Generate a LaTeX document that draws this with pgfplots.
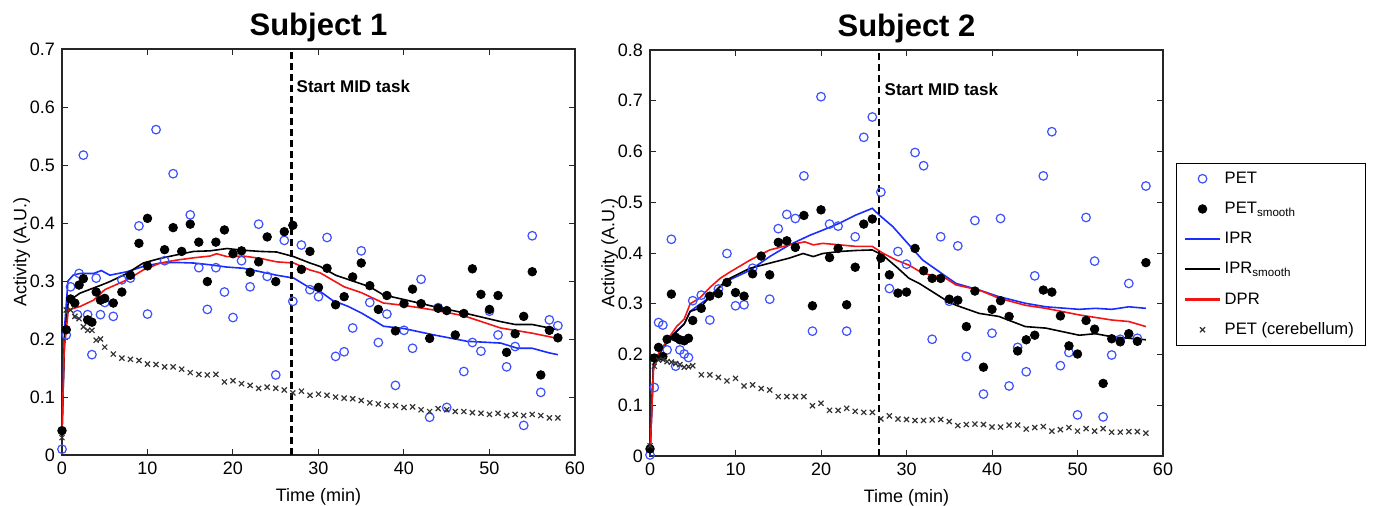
\documentclass[border=0pt]{standalone}
\usepackage{fontspec}
\setmainfont{Liberation Sans}
\usepackage{pgfplots}
\pgfplotsset{compat=1.18}

\definecolor{petc}{RGB}{60,80,255}
\definecolor{iprc}{RGB}{25,45,255}
\definecolor{dprc}{RGB}{245,20,20}

\pgfplotsset{
  subj/.style={
    scale only axis, width=256.5pt, height=203pt,
    xmin=0, xmax=60, xtick={0,10,...,60},
    xlabel={Time (min)}, ylabel={Activity (A.U.)},
    ylabel shift=-7pt,
    /pgf/number format/assume math mode=true,
    /pgf/number format/fixed,
    tick label style={font=\fontsize{9}{10}\selectfont},
    label style={font=\fontsize{9}{10}\selectfont},
    title style={font=\fontsize{15.5}{17}\selectfont\bfseries, yshift=-6pt},
    major tick length=3pt,
    axis line style={black!85, line width=0.6pt},
    tick style={black!85, line width=0.5pt},
    clip=false,
  },
  pet/.style={only marks, mark=o, mark size=2.15pt, petc, mark options={line width=0.6pt}},
  pets/.style={only marks, mark=*, mark size=2.15pt, black},
  ipr/.style={draw=iprc, line width=0.8pt, no marks, legend image post style={line width=1.1pt}},
  iprs/.style={draw=black, line width=0.8pt, no marks, legend image post style={line width=1pt}},
  dpr/.style={draw=dprc, line width=0.8pt, no marks, legend image post style={line width=1.1pt}},
  cer/.style={only marks, mark=x, mark size=1.8pt, black!80, mark options={line width=0.6pt}},
  startline/.style={black, line width=1.2pt, dash pattern=on 3.5pt off 2pt, forget plot},
}

\begin{document}
\begin{tikzpicture}
\useasboundingbox (0,0) rectangle (689.5pt,-253pt);

% ---------------- Subject 1
\begin{axis}[subj, at={(31pt,-227.5pt)}, anchor=south west,
  title={Subject 1}, ymin=0, ymax=0.7, ytick={0,0.1,...,0.7}]
  \addplot[pet] coordinates {(0,0.01) (0.5,0.207) (1,0.29) (1.8,0.242) (2,0.313) (2.5,0.517)
    (3,0.242) (3.5,0.173) (4,0.305) (4.5,0.242) (5,0.263) (6,0.239) (7,0.302) (8,0.305)
    (9,0.395) (10,0.243) (11,0.561) (12,0.335) (13,0.485) (15,0.414) (16,0.323) (17,0.251)
    (18,0.323) (19,0.281) (20,0.237) (21,0.335) (22,0.29) (23,0.398) (24,0.308) (25,0.138)
    (26,0.37) (27,0.265) (28,0.362) (29,0.285) (30,0.273) (31,0.375) (32,0.17) (33,0.178)
    (34,0.219) (35,0.352) (36,0.263) (37,0.194) (38,0.243) (39,0.12) (40,0.215) (41,0.184)
    (42,0.303) (43,0.065) (44,0.254) (45,0.082) (47,0.144) (48,0.194) (49,0.179) (50,0.248)
    (51,0.207) (52,0.152) (53,0.187) (54,0.051) (55,0.378) (56,0.108) (57,0.233) (58,0.223)};
  \addplot[pets] coordinates {(0,0.042) (0.5,0.216) (1,0.269) (1.5,0.262) (2,0.293) (2.5,0.304)
    (3,0.233) (3.5,0.229) (4,0.281) (4.5,0.267) (5,0.27) (6,0.262) (7,0.281) (8,0.31)
    (9,0.365) (10,0.408) (10,0.326) (12,0.354) (13,0.392) (14,0.351) (15,0.398) (16,0.367)
    (17,0.299) (18,0.367) (19,0.388) (20,0.347) (21,0.352) (22,0.315) (23,0.333) (24,0.376)
    (25,0.299) (26,0.385) (27,0.396) (28,0.32) (29,0.351) (30,0.289) (31,0.322) (32,0.259)
    (33,0.273) (34,0.307) (35,0.331) (36,0.292) (37,0.251) (38,0.275) (39,0.214) (40,0.261)
    (41,0.286) (42,0.261) (43,0.201) (44,0.253) (45,0.249) (46,0.207) (47,0.244) (48,0.321)
    (49,0.277) (50,0.251) (51,0.275) (52,0.177) (53,0.209) (54,0.239) (55,0.316) (56,0.138)
    (57,0.215) (58,0.202)};
  \addplot[ipr] coordinates {(0,0.04) (0.3,0.22) (0.7,0.3) (1.3,0.31) (2.1,0.313) (3.7,0.313)
    (4.6,0.318) (5.6,0.31) (7.6,0.316) (9.5,0.325) (11.5,0.331) (13.4,0.332) (15.4,0.331)
    (17.3,0.328) (19.3,0.324) (21.2,0.322) (23.2,0.316) (25.1,0.31) (27.1,0.305) (29,0.288)
    (30.2,0.282) (31.6,0.267) (33.5,0.256) (35,0.245) (36.5,0.232) (37.6,0.222) (40,0.218)
    (43.5,0.207) (47.4,0.196) (51.3,0.193) (53.3,0.184) (55,0.184) (57,0.176) (58,0.173)};
  \addplot[iprs] coordinates {(0,0.04) (0.3,0.2) (0.74,0.265) (2.1,0.279) (3.7,0.288) (4.6,0.293)
    (5.6,0.299) (7.6,0.313) (9.5,0.331) (11.5,0.339) (13.4,0.345) (15.4,0.351) (17.3,0.352)
    (19.3,0.356) (21.2,0.353) (23.2,0.351) (25.1,0.35) (27.1,0.342) (29,0.331) (30.2,0.325)
    (32,0.31) (34,0.3) (36,0.29) (37.6,0.276) (40,0.268) (43.5,0.256) (47,0.245) (51.3,0.23)
    (53,0.225) (55,0.225) (58,0.216)};
  \addplot[dpr] coordinates {(0,0.04) (0.25,0.18) (0.74,0.25) (2.1,0.256) (3.7,0.267) (5,0.285)
    (7.6,0.302) (9.5,0.319) (11.5,0.331) (13.4,0.336) (15.4,0.34) (17.3,0.343) (18.1,0.347)
    (19.3,0.342) (21.2,0.343) (23.2,0.339) (25.1,0.333) (27.1,0.331) (29,0.319) (30.2,0.314)
    (33,0.29) (35,0.28) (37.6,0.262) (40,0.258) (43.5,0.25) (47,0.24) (51.3,0.219) (55,0.21)
    (58,0.201)};
  \addplot[cer] coordinates {(0,0.03) (0.5,0.25) (1,0.25) (1.5,0.239) (2,0.235) (2.5,0.221)
    (3,0.215) (3.5,0.215) (4,0.198) (4.5,0.2) (5,0.186) (6,0.174) (7,0.167) (8,0.165)
    (9,0.163) (10,0.157) (11,0.156) (12,0.152) (13,0.152) (14,0.148) (15,0.142) (16,0.139)
    (17,0.138) (18,0.139) (19,0.126) (20,0.128) (21,0.123) (22,0.12) (23,0.115) (24,0.117)
    (25,0.115) (26,0.112) (27,0.107) (28,0.11) (29,0.103) (30,0.105) (31,0.103) (32,0.1)
    (33,0.098) (34,0.097) (35,0.094) (36,0.09) (37,0.088) (38,0.085) (39,0.085) (40,0.082)
    (41,0.083) (42,0.078) (43,0.075) (44,0.08) (45,0.078) (46,0.075) (47,0.075) (48,0.073)
    (49,0.072) (50,0.07) (51,0.072) (52,0.068) (53,0.07) (54,0.068) (55,0.07) (56,0.068)
    (57,0.064) (58,0.064)};
  \addplot[startline] coordinates {(26.85,0) (26.85,0.7)};
  \node[anchor=west, font=\fontsize{8.5}{10}\selectfont\bfseries, inner sep=0pt]
    at (axis cs:27.4,0.635) {Start MID task};
\end{axis}

% ---------------- Subject 2
\begin{axis}[subj, at={(325pt,-228pt)}, anchor=south west,
  title={Subject 2}, ymin=0, ymax=0.8, ytick={0,0.1,...,0.8},
  legend cell align=left,
  legend style={at={(1.0253,0.722)}, anchor=north west,
    font=\fontsize{8.3}{9}\selectfont, row sep=1.6pt, inner xsep=4pt, inner ysep=1pt,
    nodes={text height=7pt, text depth=2.5pt},
    column 2/.style={nodes={text width=72pt}}},
  legend entries={PET, PET\textsubscript{smooth}, IPR, IPR\textsubscript{smooth}, DPR, PET (cerebellum)}]
  \addplot[pet] coordinates {(0,0.002) (0.5,0.135) (1,0.263) (1.5,0.258) (2,0.209) (2.5,0.427)
    (3,0.177) (3.5,0.209) (4,0.201) (4.5,0.194) (5,0.306) (6,0.317) (7,0.268) (8,0.329)
    (9,0.399) (10,0.296) (11,0.298) (12,0.37) (14,0.309) (15,0.448) (16,0.476) (17,0.468)
    (18,0.552) (19,0.246) (20,0.708) (21,0.457) (22,0.453) (23,0.246) (24,0.432) (25,0.628)
    (26,0.668) (27,0.52) (28,0.33) (29,0.403) (30,0.378) (31,0.598) (32,0.572) (33,0.23)
    (34,0.432) (35,0.305) (36,0.414) (37,0.196) (38,0.464) (39,0.122) (40,0.242) (41,0.468)
    (42,0.138) (43,0.214) (44,0.166) (45,0.355) (46,0.552) (47,0.639) (48,0.178) (49,0.204)
    (50,0.081) (51,0.47) (52,0.384) (53,0.077) (54,0.199) (55,0.23) (56,0.34) (57,0.232)
    (58,0.532)};
  \addplot[pets] coordinates {(0,0.014) (0.5,0.193) (1,0.214) (1.5,0.196) (2,0.23) (2.5,0.319)
    (3,0.234) (3.5,0.229) (4,0.227) (4.5,0.232) (5,0.267) (6,0.291) (7,0.315) (8,0.32)
    (9,0.342) (10,0.322) (11,0.315) (12,0.359) (13,0.394) (14,0.357) (15,0.421) (16,0.424)
    (17,0.411) (18,0.474) (19,0.296) (20,0.485) (21,0.391) (22,0.409) (23,0.298) (24,0.372)
    (25,0.457) (26,0.467) (27,0.39) (28,0.357) (29,0.321) (30,0.323) (31,0.409) (32,0.365)
    (33,0.35) (34,0.35) (35,0.309) (36,0.307) (37,0.255) (38,0.325) (39,0.175) (40,0.289)
    (41,0.306) (42,0.275) (43,0.207) (44,0.229) (45,0.238) (46,0.327) (47,0.323) (48,0.276)
    (49,0.217) (50,0.201) (51,0.267) (52,0.25) (53,0.143) (54,0.231) (55,0.225) (56,0.241)
    (57,0.226) (58,0.381)};
  \addplot[ipr] coordinates {(0,0) (0.4,0.18) (1,0.2) (2,0.225) (3,0.245) (4,0.26) (4.7,0.285)
    (5.5,0.295) (7,0.313) (8,0.33) (9.3,0.347) (11.7,0.366) (14,0.393) (16.3,0.416)
    (18.7,0.435) (20.2,0.445) (22.2,0.459) (24.1,0.475) (26,0.488) (26.8,0.475) (28.4,0.452)
    (30.3,0.416) (31.9,0.386) (34.6,0.354) (35.8,0.34) (38.5,0.327) (40.8,0.314) (43.9,0.301)
    (46.3,0.294) (50.2,0.289) (52.1,0.291) (54,0.289) (56,0.294) (58,0.291)};
  \addplot[iprs] coordinates {(0,0.005) (0.4,0.18) (1,0.2) (2,0.225) (3.1,0.245) (4,0.26)
    (4.7,0.285) (5.8,0.291) (7,0.314) (8.2,0.335) (9.3,0.35) (11.7,0.37) (14,0.38) (16.3,0.39)
    (17.9,0.399) (19.1,0.393) (20.2,0.399) (22.2,0.403) (24.1,0.405) (26,0.406) (27.2,0.396)
    (28.8,0.373) (30.3,0.35) (31.5,0.34) (34.6,0.307) (35.8,0.297) (38.5,0.281) (40.8,0.275)
    (43.9,0.255) (46.3,0.252) (50.2,0.238) (52.1,0.241) (54,0.235) (58,0.229)};
  \addplot[dpr] coordinates {(0,0.005) (0.4,0.17) (1,0.202) (2,0.228) (3.1,0.255) (4,0.27)
    (4.7,0.3) (5.8,0.311) (7,0.332) (8.2,0.35) (9.3,0.362) (10.9,0.378) (11.7,0.386) (14,0.406)
    (16.3,0.416) (18.1,0.422) (19.1,0.416) (20.2,0.419) (22.2,0.416) (24.1,0.413) (26,0.413)
    (27.2,0.4) (28.8,0.386) (30.3,0.376) (31.9,0.36) (34.6,0.35) (35.8,0.337) (38.5,0.327)
    (40.8,0.311) (43.9,0.297) (46.3,0.291) (50.2,0.278) (54,0.268) (56,0.265) (58,0.255)};
  \addplot[cer] coordinates {(0,0.02) (0.5,0.177) (1,0.189) (1.5,0.19) (2,0.186) (2.5,0.185)
    (3,0.182) (3.5,0.18) (4,0.175) (4.5,0.176) (5,0.178) (6,0.16) (7,0.16) (8,0.155)
    (9,0.148) (10,0.153) (11,0.138) (12,0.14) (13,0.133) (14,0.13) (15,0.117) (16,0.117)
    (17,0.117) (18,0.117) (19,0.099) (20,0.104) (21,0.09) (22,0.09) (23,0.094) (24,0.088)
    (25,0.086) (26,0.086) (27,0.073) (28,0.079) (29,0.073) (30,0.072) (31,0.07) (32,0.07)
    (33,0.071) (34,0.072) (35,0.068) (36,0.06) (37,0.062) (38,0.063) (39,0.062) (40,0.057)
    (41,0.057) (42,0.061) (43,0.061) (44,0.053) (45,0.056) (46,0.058) (47,0.049) (48,0.052)
    (49,0.056) (50,0.049) (51,0.054) (52,0.049) (53,0.054) (54,0.047) (55,0.047) (56,0.048)
    (57,0.048) (58,0.045)};
  \addplot[startline] coordinates {(26.8,0) (26.8,0.8)};
  \node[anchor=west, font=\fontsize{8.5}{10}\selectfont\bfseries, inner sep=0pt]
    at (axis cs:27.4,0.723) {Start MID task};
\end{axis}
\end{tikzpicture}
\end{document}
